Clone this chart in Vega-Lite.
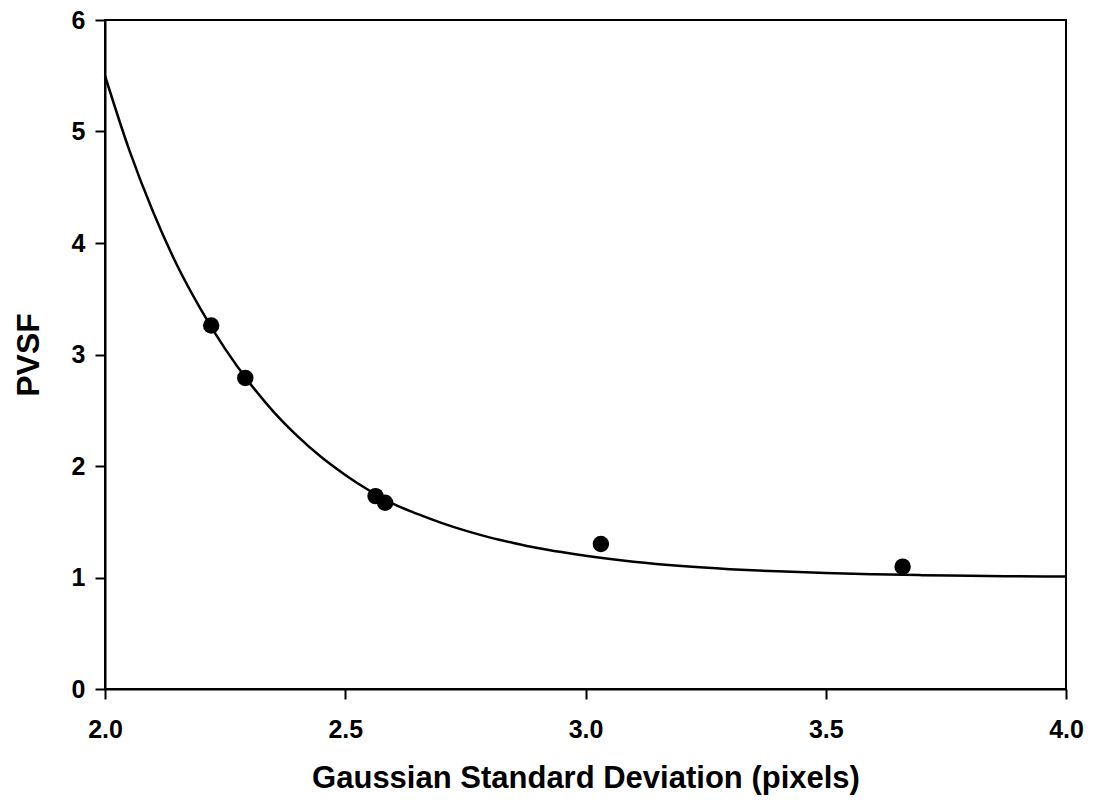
{
  "$schema": "https://vega.github.io/schema/vega-lite/v6.json",
  "width": 961,
  "height": 669,
  "autosize": {"type": "none"},
  "padding": {"left": 105, "top": 20, "right": 28, "bottom": 116},
  "background": "white",
  "config": {
    "view": {"stroke": "black", "strokeWidth": 2},
    "font": "Liberation Sans"
  },
  "datasets": {
    "curve": [
      {"x": 2.00, "y": 5.50},
      {"x": 2.05, "y": 4.84},
      {"x": 2.10, "y": 4.28},
      {"x": 2.15, "y": 3.80},
      {"x": 2.20, "y": 3.40},
      {"x": 2.25, "y": 3.05},
      {"x": 2.30, "y": 2.75},
      {"x": 2.35, "y": 2.49},
      {"x": 2.40, "y": 2.27},
      {"x": 2.45, "y": 2.08},
      {"x": 2.50, "y": 1.92},
      {"x": 2.55, "y": 1.78},
      {"x": 2.60, "y": 1.66},
      {"x": 2.65, "y": 1.57},
      {"x": 2.70, "y": 1.49},
      {"x": 2.75, "y": 1.42},
      {"x": 2.80, "y": 1.36},
      {"x": 2.85, "y": 1.31},
      {"x": 2.90, "y": 1.265},
      {"x": 2.95, "y": 1.228},
      {"x": 3.00, "y": 1.195},
      {"x": 3.10, "y": 1.142},
      {"x": 3.20, "y": 1.103},
      {"x": 3.30, "y": 1.075},
      {"x": 3.40, "y": 1.055},
      {"x": 3.50, "y": 1.040},
      {"x": 3.60, "y": 1.029},
      {"x": 3.70, "y": 1.021},
      {"x": 3.80, "y": 1.016},
      {"x": 3.90, "y": 1.011},
      {"x": 4.00, "y": 1.008}
    ],
    "points": [
      {"x": 2.221, "y": 3.26},
      {"x": 2.292, "y": 2.79},
      {"x": 2.563, "y": 1.73},
      {"x": 2.583, "y": 1.67},
      {"x": 3.032, "y": 1.30},
      {"x": 3.660, "y": 1.097}
    ]
  },
  "encoding": {
    "x": {
      "field": "x",
      "type": "quantitative",
      "scale": {"domain": [2, 4], "nice": false, "zero": false},
      "axis": {
        "title": "Gaussian Standard Deviation (pixels)",
        "values": [2, 2.5, 3, 3.5, 4],
        "format": ".1f",
        "grid": false,
        "domainColor": "black",
        "domainWidth": 2,
        "tickColor": "black",
        "tickWidth": 2,
        "tickSize": 10,
        "labelFontSize": 25,
        "labelFontWeight": "bold",
        "labelColor": "black",
        "labelBaseline": "alphabetic",
        "labelPadding": 38,
        "labelFlush": false,
        "titleFontSize": 31,
        "titleFontWeight": "bold",
        "titleColor": "black",
        "titleBaseline": "alphabetic",
        "titleY": 98
      }
    },
    "y": {
      "field": "y",
      "type": "quantitative",
      "scale": {"domain": [0, 6], "nice": false},
      "axis": {
        "title": "PVSF",
        "values": [0, 1, 2, 3, 4, 5, 6],
        "format": "d",
        "grid": false,
        "domainColor": "black",
        "domainWidth": 2,
        "tickColor": "black",
        "tickWidth": 2,
        "tickSize": 10,
        "labelFontSize": 25,
        "labelFontWeight": "bold",
        "labelColor": "black",
        "labelPadding": 10,
        "labelFlush": false,
        "titleFontSize": 32,
        "titleFontWeight": "bold",
        "titleColor": "black",
        "titleBaseline": "alphabetic",
        "titleX": -67,
        "titleY": 334.5
      }
    }
  },
  "layer": [
    {
      "data": {"name": "curve"},
      "mark": {"type": "line", "color": "black", "strokeWidth": 2.5, "interpolate": "monotone"}
    },
    {
      "data": {"name": "points"},
      "mark": {"type": "point", "shape": "circle", "filled": true, "color": "black", "opacity": 1, "size": 270}
    }
  ]
}
